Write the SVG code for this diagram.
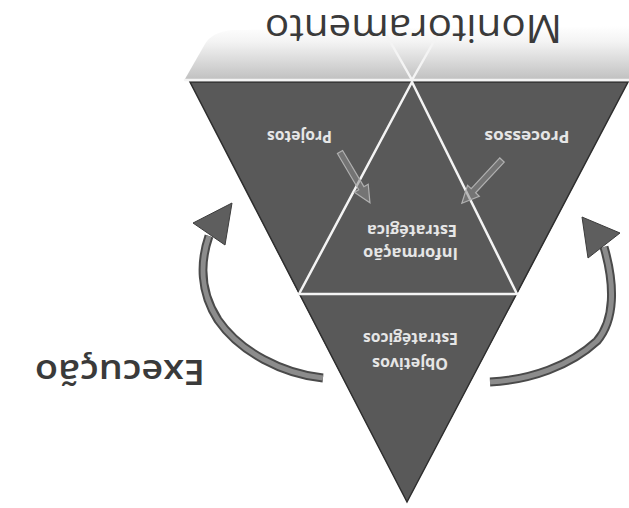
<svg xmlns="http://www.w3.org/2000/svg" width="629" height="508" viewBox="0 0 629 508">
<defs>
<linearGradient id="bandGrad" x1="0" y1="26" x2="0" y2="80" gradientUnits="userSpaceOnUse">
<stop offset="0" stop-color="#ffffff"/>
<stop offset="0.3" stop-color="#f3f3f3"/>
<stop offset="1" stop-color="#c0c0c0"/>
</linearGradient>
<style>
.region{fill:#595959;}
.sep{stroke:#f4f4f4;stroke-width:2.5;fill:none;stroke-linecap:round;}
.lbl{font-family:"Open Sans","DejaVu Sans",sans-serif;font-weight:bold;font-size:15.5px;fill:#e6e6e6;text-anchor:middle;}
.big{font-family:"Open Sans","DejaVu Sans",sans-serif;fill:#3a3a3a;text-anchor:middle;}
.shaftOut{fill:none;stroke:#4a4a4a;stroke-width:9;}
.shaftIn{fill:none;stroke:#8c8c8c;stroke-width:5;}
.head{fill:#5e5e5e;stroke:#3c3c3c;stroke-width:1;}
.small{fill:#8a8a8a;fill-opacity:0.55;stroke:#b0b0b0;stroke-width:1.2;}
</style>
</defs>
<rect width="629" height="508" fill="#ffffff"/>

<g id="monitoramento">
<path d="M185,79 L205,44 Q212,32 232,30 L629,26 L629,79 Z" fill="url(#bandGrad)"/>
<line class="sep" x1="412" y1="80" x2="387" y2="36" stroke-width="2"/>
<line class="sep" x1="412" y1="80" x2="437" y2="36" stroke-width="2"/>
<text class="big" font-size="39" textLength="297" lengthAdjust="spacingAndGlyphs" transform="translate(413.5,15) rotate(180)">Monitoramento</text>
</g>

<g id="projetos">
<polygon class="region" points="190,82 412,82 299,294"/>
<text class="lbl" textLength="65" lengthAdjust="spacingAndGlyphs" transform="translate(299.5,131) rotate(180)">Projetos</text>
</g>

<g id="processos">
<polygon class="region" points="412,82 628,82 517,294"/>
<text class="lbl" textLength="85" lengthAdjust="spacingAndGlyphs" transform="translate(527,131) rotate(180)">Processos</text>
</g>

<g id="informacao">
<polygon class="region" points="412,82 517,294 299,294"/>
<text class="lbl" textLength="95" lengthAdjust="spacingAndGlyphs" transform="translate(410.5,248) rotate(180)">Informação</text>
<text class="lbl" textLength="90" lengthAdjust="spacingAndGlyphs" transform="translate(412,225) rotate(180)">Estratégica</text>
</g>

<g id="objetivos">
<polygon class="region" points="299,294 517,294 407,502"/>
<text class="lbl" textLength="76" lengthAdjust="spacingAndGlyphs" transform="translate(410,358) rotate(180)">Objetivos</text>
<text class="lbl" textLength="95" lengthAdjust="spacingAndGlyphs" transform="translate(410.5,333) rotate(180)">Estratégicos</text>
</g>

<g id="outline">
<polygon points="190,82 628,82 407,502" fill="none" stroke="#2e2e2e" stroke-width="1.5"/>
<line class="sep" x1="185" y1="80" x2="629" y2="80" stroke-width="3"/>
<line class="sep" x1="412" y1="82" x2="299" y2="294"/>
<line class="sep" x1="412" y1="82" x2="517" y2="294"/>
<line class="sep" x1="299" y1="294" x2="517" y2="294"/>
</g>

<g id="execucao">
<text class="big" font-weight="600" font-size="35" fill="#444444" textLength="170" lengthAdjust="spacingAndGlyphs" transform="translate(120,360) rotate(180)">Execução</text>
</g>

<g id="connectors">
<path class="shaftOut" d="M323,378 C283,374 240,352 218,320 C200,292 200,262 209,236"/>
<path class="shaftIn" d="M323,378 C283,374 240,352 218,320 C200,292 200,262 209,236"/>
<polygon class="head" points="232,203 193,223 225,245"/>
<path class="shaftOut" d="M490,382 C530,380 570,366 597,341 C615,320 615,285 604,247"/>
<path class="shaftIn" d="M490,382 C530,380 570,366 597,341 C615,320 615,285 604,247"/>
<polygon class="head" points="582,217 620,233 588,258"/>
<polygon class="small" points="0,-3 42,-3 42,-8 59,0 42,8 42,3 0,3" transform="translate(340,152) rotate(59.5)"/>
<polygon class="small" points="0,-3 42,-3 42,-8 59,0 42,8 42,3 0,3" transform="translate(502,160) rotate(132.9)"/>
</g>
</svg>
